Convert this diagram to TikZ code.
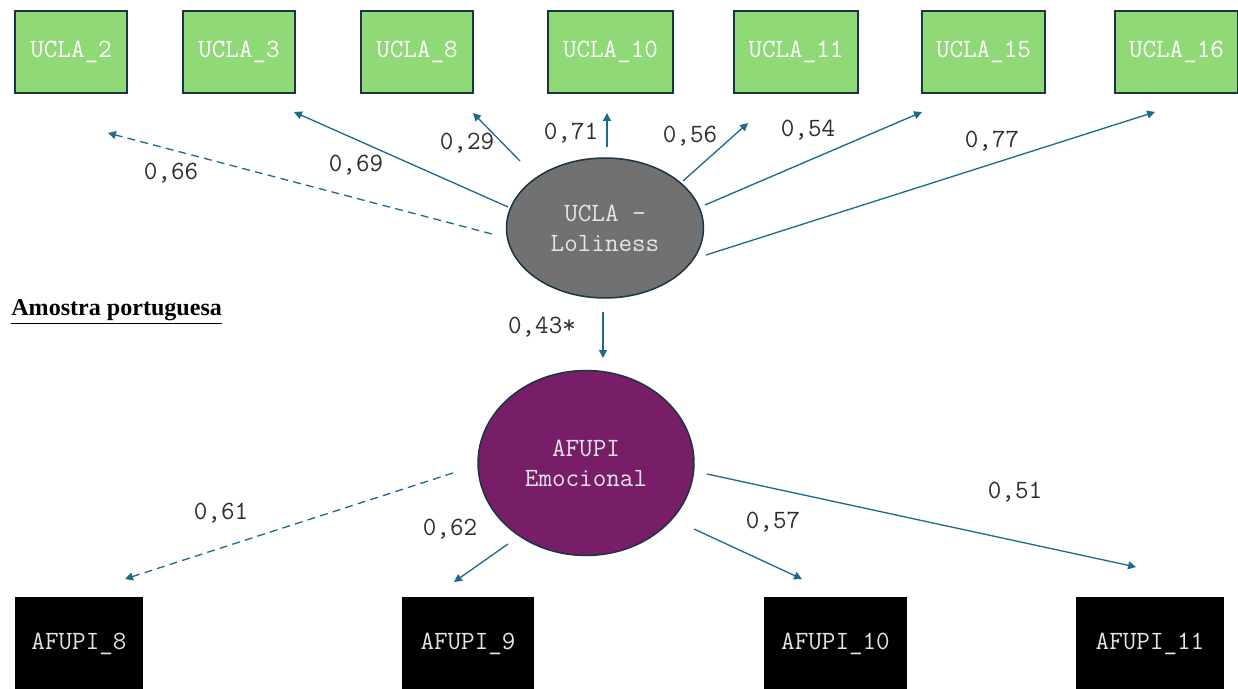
\documentclass[tikz,border=0pt]{standalone}
\usepackage{fontspec}
\newfontfamily\timesfont{Liberation Serif}
\usetikzlibrary{shapes.geometric, arrows.meta, positioning}
\definecolor{boxgreen}{HTML}{8FDA77}
\definecolor{darkline}{HTML}{1B3444}
\definecolor{arrowblue}{HTML}{1E6A8A}
\definecolor{latgray}{HTML}{717171}
\definecolor{latpurple}{HTML}{781E69}
\definecolor{labelgray}{HTML}{2E2E2E}
\tikzset{
  item/.style={draw=darkline, line width=1.1pt, fill=boxgreen, text=white,
    minimum height=1.64cm, inner sep=0pt, font=\ttfamily\fontsize{15}{17}\selectfont},
  afitem/.style={fill=black, text=white!90!black, minimum height=1.88cm,
    inner sep=0pt, font=\ttfamily\fontsize{15}{17}\selectfont},
  latent/.style={ellipse, draw=darkline, line width=0.85pt, align=center,
    text=white!90!black, inner sep=0pt, font=\ttfamily\fontsize{15}{17}\selectfont},
  loading/.style={arrowblue, line width=0.75pt, -{Triangle[length=4.5pt,width=4.5pt]}},
  fixed/.style={dash pattern=on 4.5pt off 3pt},
  coef/.style={text=labelgray, inner sep=0pt, font=\ttfamily\fontsize{15}{17}\selectfont}
}

\begin{document}
\begin{tikzpicture}[x=0.02cm, y=-0.02cm]
  \useasboundingbox (0,0) rectangle (1238,689);

  % indicadores UCLA
  \foreach \n/\x/\w in {2/71/112, 3/239/112, 8/417/112, 10/610.5/125,
    11/796/124, 15/983.5/123, 16/1176.5/123}{
    \node[item, minimum width=\w*0.02cm] (ucla\n) at (\x,52) {UCLA\_\n};
  }
  \node[latent, fill=latgray, minimum width=3.94cm, minimum height=2.8cm]
    (ucla) at (605,228) {UCLA -\\Loliness};

  % indicadores AFUPI
  \foreach \n/\x/\w in {8/79/128, 9/468/132, 10/835.5/143, 11/1150/148}{
    \node[afitem, minimum width=\w*0.02cm] (afupi\n) at (\x,644) {AFUPI\_\n};
  }
  \node[latent, fill=latpurple, minimum width=4.32cm, minimum height=3.7cm]
    (afupi) at (586,463) {AFUPI\\Emocional};

  \node[anchor=base west, inner sep=0pt, font=\timesfont\bfseries\fontsize{13.7}{16}\selectfont]
    (sample) at (11,316) {\underline{Amostra portuguesa}};

  % cargas UCLA
  \foreach \n/\sx/\sy/\ex/\ey/\val/\lx/\ly/\st in {
    2/492/234/108/133/{0,66}/171/173/fixed,
    3/508/207/294/112/{0,69}/356/165/solid,
    8/520/161/473/113/{0,29}/467/143/solid,
    10/607/147/607/113/{0,71}/571/133/solid,
    11/683/181/748/123/{0,56}/690/136/solid,
    15/705/205/922/112/{0,54}/808/130/solid,
    16/706/255/1155/112/{0,77}/992/141/solid}{
    \coordinate (us\n) at (\sx,\sy);
    \coordinate (ue\n) at (\ex,\ey);
    \draw[loading, \st] (us\n) -- (ue\n);
    \node[coef] (cu\n) at (\lx,\ly) {\val};
  }

  % efeito estrutural
  \coordinate (rs) at (603,312);
  \coordinate (re) at (603,358);
  \draw[loading] (rs) -- (re);
  \node[coef] (creg) at (542,327) {0,43*};

  % cargas AFUPI
  \foreach \n/\sx/\sy/\ex/\ey/\val/\lx/\ly/\st in {
    8/453/473/125/579/{0,61}/221/513/fixed,
    9/508/544/454/582/{0,62}/450/529/solid,
    10/694/529/802/579/{0,57}/773/522/solid,
    11/707/474/1136/567/{0,51}/1015/492/solid}{
    \coordinate (as\n) at (\sx,\sy);
    \coordinate (ae\n) at (\ex,\ey);
    \draw[loading, \st] (as\n) -- (ae\n);
    \node[coef] (ca\n) at (\lx,\ly) {\val};
  }
\end{tikzpicture}
\end{document}
